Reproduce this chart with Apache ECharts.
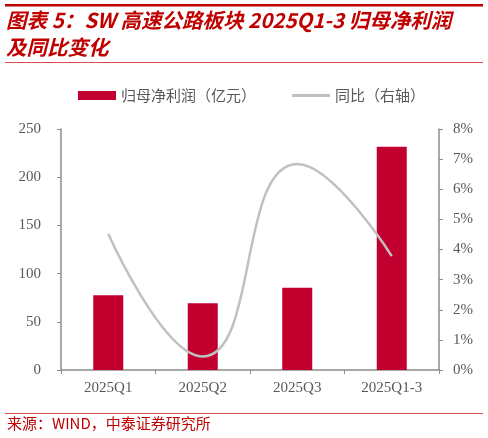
<!DOCTYPE html>
<html><head><meta charset="utf-8">
<script src="https://cdn.jsdelivr.net/npm/echarts@6/dist/echarts.min.js"></script>
<style>html,body{margin:0;padding:0;background:#fff}#c{width:488px;height:438px}</style>
</head><body><div id="c"></div>
<script>
const categories = ['2025Q1', '2025Q2', '2025Q3', '2025Q1-3'];
const profit = [77.5, 69.3, 85.2, 231.6];
const yoy = [4.52, 0.45, 6.84, 3.78];
const leftTicks = [0, 50, 100, 150, 200, 250];
const rightTicks = [0, 1, 2, 3, 4, 5, 6, 7, 8];
const titleLine1 = '图表 5：SW 高速公路板块 2025Q1-3 归母净利润';
const titleLine2 = '及同比变化';
const sourceText = '来源：WIND，中泰证券研究所';
const seriesNames = ['归母净利润（亿元）', '同比（右轴）'];

const RED = '#C00000';
const BAR = '#C2002F';
const GRAY_TXT = '#595959';
const AXIS = '#8c8c8c';
const serif = '"Liberation Serif", "DejaVu Serif", serif';
const cjk = '"Noto Sans CJK SC", sans-serif';

const chart = echarts.init(document.getElementById('c'));
chart.setOption({
  animation: false,
  backgroundColor: '#fff',
  graphic: [
    { type: 'rect', shape: { x: 5, y: 4, width: 478, height: 2.5 }, style: { fill: RED } },
    { type: 'text', left: 6, top: 10, style: { text: titleLine1, fill: RED, font: 'italic bold 20.5px ' + cjk } },
    { type: 'text', left: 6, top: 37, style: { text: titleLine2, fill: RED, font: 'italic bold 20.5px ' + cjk } },
    { type: 'rect', shape: { x: 5, y: 62, width: 478, height: 1 }, style: { fill: '#D85050' } },
    { type: 'rect', shape: { x: 5, y: 413, width: 478, height: 1 }, style: { fill: '#D85050' } },
    { type: 'text', left: 7, top: 416, style: { text: sourceText, fill: RED, font: '15px ' + cjk } }
  ],
  legend: {
    top: 83, left: 73,
    itemGap: 36,
    itemWidth: 38, itemHeight: 9,
    textStyle: { color: GRAY_TXT, fontSize: 15, fontFamily: cjk },
    data: [
      { name: seriesNames[0], icon: 'rect' },
      { name: seriesNames[1], icon: 'path://M0,0 L38,0 L38,3 L0,3 Z', itemStyle: { color: '#C0C0C0' } }
    ]
  },
  grid: { left: 61, right: 49, top: 129, bottom: 68 },
  xAxis: {
    type: 'category', data: categories,
    axisLine: { lineStyle: { color: AXIS, width: 1.5 } },
    axisTick: { show: true, length: 4, lineStyle: { color: AXIS } },
    axisLabel: { color: GRAY_TXT, fontSize: 15, fontFamily: serif, margin: 11 }
  },
  yAxis: [
    {
      type: 'value', min: 0, max: 250, interval: 50,
      axisLine: { show: true, lineStyle: { color: AXIS, width: 1.5 } },
      axisTick: { show: true, length: 4, lineStyle: { color: AXIS } },
      splitLine: { show: false },
      axisLabel: { color: GRAY_TXT, fontSize: 15, fontFamily: serif, margin: 20,
        formatter: v => leftTicks.includes(v) ? String(v) : '' }
    },
    {
      type: 'value', min: 0, max: 8, interval: 1, position: 'right',
      axisLine: { show: true, lineStyle: { color: AXIS, width: 1.5 } },
      axisTick: { show: true, length: 4, lineStyle: { color: AXIS } },
      splitLine: { show: false },
      axisLabel: { color: GRAY_TXT, fontSize: 15, fontFamily: serif, margin: 14,
        formatter: v => rightTicks.includes(v) ? v + '%' : '' }
    }
  ],
  series: [
    {
      name: seriesNames[0], type: 'bar', data: profit, barWidth: 30,
      itemStyle: { color: BAR }, yAxisIndex: 0, z: 2
    },
    {
      name: seriesNames[1], type: 'line', data: yoy, yAxisIndex: 1, smooth: 0.5,
      symbol: 'none', lineStyle: { color: '#C0C0C0', width: 2.5 }, itemStyle: { color: '#C0C0C0' }, z: 3
    }
  ]
});
</script></body></html>
